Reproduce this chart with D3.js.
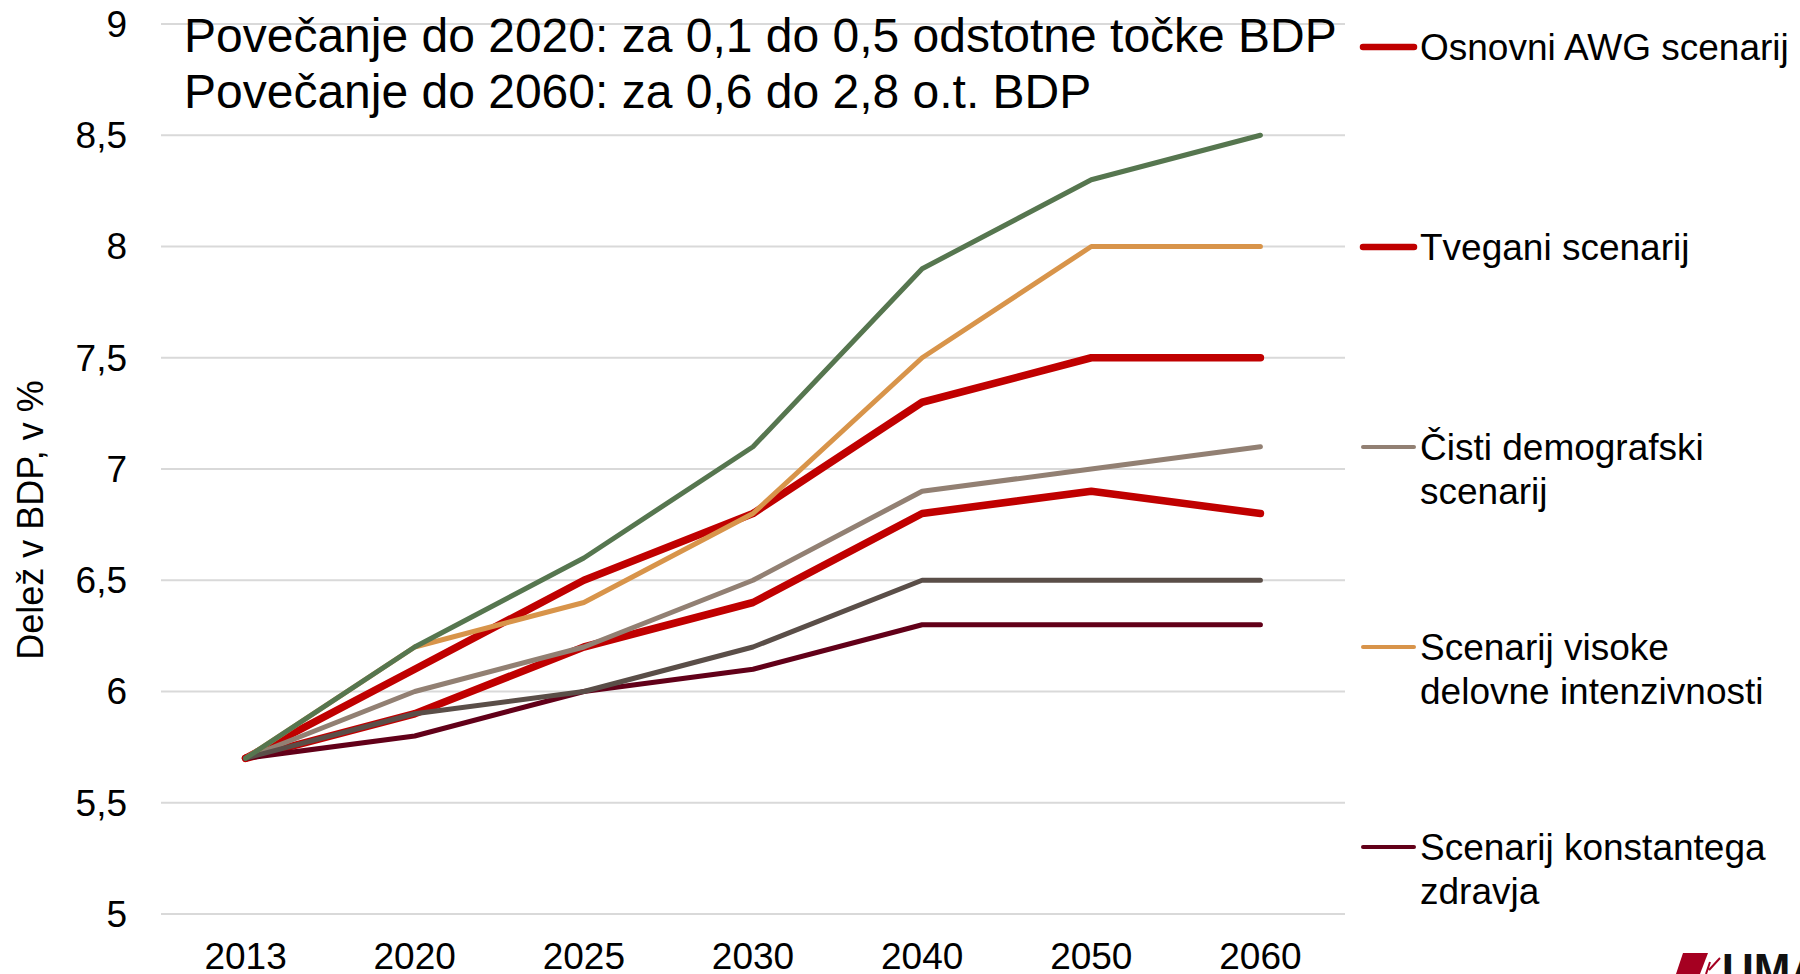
<!DOCTYPE html>
<html>
<head>
<meta charset="utf-8">
<script src="https://cdn.jsdelivr.net/npm/d3@7"></script>
<style>
    html, body { margin: 0; padding: 0; background: #fff; overflow: hidden; }
    svg { display: block; font-family: 'Liberation Sans', Arial, sans-serif; }
</style>
</head>
<body>
<svg id="chart"></svg>
<script>
'use strict';
// data
var years = ['2013', '2020', '2025', '2030', '2040', '2050', '2060'];
var yTicks = [5, 5.5, 6, 6.5, 7, 7.5, 8, 8.5, 9];
var yTickLabels = ['5', '5,5', '6', '6,5', '7', '7,5', '8', '8,5', '9'];

var osnovni     = [5.7, 5.9, 6.2, 6.4, 6.8, 6.9, 6.8];
var tvegani     = [5.7, 6.1, 6.5, 6.8, 7.3, 7.5, 7.5];
var cisti       = [5.7, 6.0, 6.2, 6.5, 6.9, 7.0, 7.1];
var visoke      = [5.7, 6.2, 6.4, 6.8, 7.5, 8.0, 8.0];
var konstantega = [5.7, 5.8, 6.0, 6.1, 6.3, 6.3, 6.3];
var temno       = [5.7, 5.9, 6.0, 6.2, 6.5, 6.5, 6.5];
var zeleno      = [5.7, 6.2, 6.6, 7.1, 7.9, 8.3, 8.5];

var seriesNames = [['Osnovni AWG scenarij'], ['Tvegani scenarij'], ['Čisti demografski', 'scenarij'],
    ['Scenarij visoke', 'delovne intenzivnosti'], ['Scenarij konstantega', 'zdravja'], null, null];
var seriesValues = [osnovni, tvegani, cisti, visoke, konstantega, temno, zeleno];
var seriesColors = ['#c00000', '#c00000', '#928073', '#d8944a', '#620019', '#5a4e48', '#56764f'];
var seriesWidths = [7.5, 7.5, 5, 5, 5, 5, 5];

var title = ['Povečanje do 2020: za 0,1 do 0,5 odstotne točke BDP',
             'Povečanje do 2060: za 0,6 do 2,8 o.t. BDP'];

var W = 1800, H = 974;
var svg = d3.select('#chart').attr('width', W).attr('height', H);

var x = d3.scalePoint().domain(years).range([161, 1345]).padding(0.5);
var y = d3.scaleLinear().domain([5, 9]).range([914, 24]);

// grid
svg.append('g').selectAll('line')
    .data(yTicks)
    .enter()
    .append('line')
    .attr('x1', 161).attr('x2', 1345)
    .attr('y1', function(d){return y(d);})
    .attr('y2', function(d){return y(d);})
    .attr('stroke', '#d9d9d9')
    .attr('stroke-width', 2);

// y labels
svg.append('g').selectAll('text')
    .data(yTicks)
    .enter()
    .append('text')
    .text(function(d, i){return yTickLabels[i];})
    .attr('x', 127)
    .attr('y', function(d){return y(d);})
    .attr('dy', '0.35em')
    .attr('text-anchor', 'end')
    .attr('font-size', 37)
    .attr('fill', '#000');

// x labels
svg.append('g').selectAll('text')
    .data(years)
    .enter()
    .append('text')
    .text(function(d){return d;})
    .attr('x', function(d){return x(d);})
    .attr('y', 969)
    .attr('text-anchor', 'middle')
    .attr('font-size', 37)
    .attr('fill', '#000');

// axis title
svg.append('text')
    .text('Delež v BDP, v %')
    .attr('transform', 'translate(43,520) rotate(-90)')
    .attr('text-anchor', 'middle')
    .attr('font-size', 36)
    .attr('fill', '#000');

// lines
var line = d3.line()
    .x(function(d, i){return x(years[i]);})
    .y(function(d){return y(d);});

svg.append('g').selectAll('path')
    .data(seriesValues)
    .enter()
    .append('path')
    .attr('d', function(d){return line(d);})
    .attr('fill', 'none')
    .attr('stroke', function(d, i){return seriesColors[i];})
    .attr('stroke-width', function(d, i){return seriesWidths[i];})
    .attr('stroke-linejoin', 'round')
    .attr('stroke-linecap', 'round');

// title
svg.append('g').selectAll('text')
    .data(title)
    .enter()
    .append('text')
    .text(function(d){return d;})
    .attr('x', 184)
    .attr('y', function(d, i){return 52 + i*56;})
    .attr('font-size', 48)
    .attr('fill', '#000');

// legend (only the first five fit)
var legend = svg.append('g').selectAll('g')
    .data(seriesNames.map(function(n, i){return {name: n, i: i};}).filter(function(d){return d.name;}))
    .enter()
    .append('g')
    .attr('transform', function(d, i){return 'translate(0,' + (47 + i*200) + ')';});

legend.append('line')
    .attr('x1', 1363).attr('x2', 1414)
    .attr('y1', 0).attr('y2', 0)
    .attr('stroke', function(d){return seriesColors[d.i];})
    .attr('stroke-width', function(d){return seriesWidths[d.i] - 1;})
    .attr('stroke-linecap', 'round');

legend.each(function(d){
    var t = d3.select(this).append('text')
        .attr('x', 1420)
        .attr('y', 13)
        .attr('font-size', 37)
        .attr('fill', '#000');
    d.name.forEach(function(s, k){
        t.append('tspan').attr('x', 1420).attr('dy', k ? 44 : 0).text(s);
    });
});

// logo, cut by the bottom edge
svg.append('path')
    .attr('d', 'M1683,953 L1708,953 L1700,974 L1676,974 Z')
    .attr('fill', '#a50021');
svg.append('path')
    .attr('d', 'M1706,974 L1710,962 M1709,970 L1720,958')
    .attr('stroke', '#a50021')
    .attr('stroke-width', 2);
svg.append('text')
    .text('UMAR')
    .attr('x', 1722)
    .attr('y', 985)
    .attr('font-size', 44)
    .attr('font-weight', 'bold')
    .attr('fill', '#111');
</script>
</body>
</html>
